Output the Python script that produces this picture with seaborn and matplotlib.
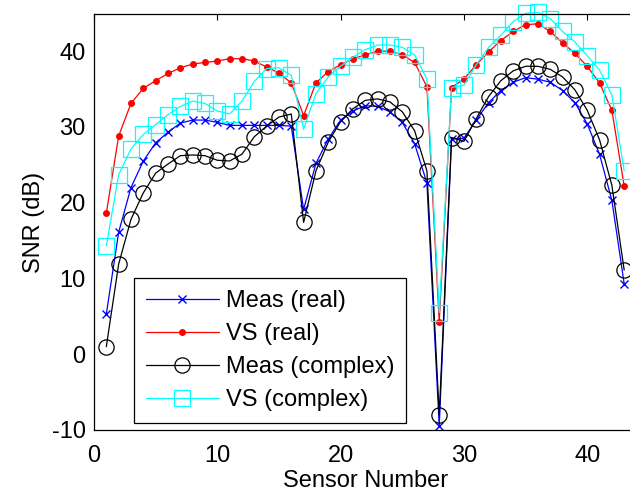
import numpy as np
import pandas as pd
import matplotlib
matplotlib.use("Agg")
import matplotlib.pyplot as plt
import seaborn as sns

sensors = list(range(1, 44))

meas_real = [5.3, 16.1, 22.0, 25.5, 27.9, 29.3, 30.5, 30.9, 30.9, 30.6,
             30.2, 30.2, 30.2, 30.2, 30.2, 30.1, 19.1, 25.2, 28.4, 30.9,
             32.1, 32.8, 32.7, 32.0, 30.6, 27.8, 22.6, -9.5, 28.4, 28.5,
             30.9, 33.2, 34.8, 35.9, 36.5, 36.3, 35.9, 34.8, 33.2, 30.4,
             26.4, 20.3, 9.3]

vs_real = [18.6, 28.8, 33.1, 35.1, 36.1, 37.05, 37.8, 38.3, 38.5, 38.7,
           39.0, 39.0, 38.7, 37.9, 37.1, 35.8, 31.5, 35.8, 37.3, 38.2,
           39.0, 39.5, 40.0, 40.0, 39.5, 38.5, 35.3, 4.3, 35.2, 36.3,
           38.2, 39.9, 41.4, 42.6, 43.5, 43.6, 42.6, 41.1, 39.7, 38.0,
           35.8, 32.2, 22.2]

meas_complex = [1.0, 11.9, 17.8, 21.3, 23.9, 25.1, 26.2, 26.3, 26.2, 25.6,
                25.5, 26.4, 28.7, 30.1, 31.3, 31.7, 17.4, 24.2, 28.0, 30.7,
                32.4, 33.5, 33.7, 33.3, 32.0, 29.5, 24.2, -8.0, 28.6, 28.1,
                31.1, 34.0, 36.1, 37.4, 38.0, 38.0, 37.6, 36.6, 34.9, 32.2,
                28.3, 22.3, 11.1]

vs_complex = [14.3, 23.7, 27.1, 29.0, 30.3, 31.6, 32.7, 33.4, 33.1, 32.1,
              31.7, 33.4, 36.0, 37.7, 37.8, 36.8, 29.7, 34.4, 36.6, 38.0,
              39.2, 40.2, 40.8, 40.8, 40.5, 39.5, 36.3, 5.5, 35.2, 35.5,
              38.2, 40.5, 42.1, 43.9, 45.0, 45.1, 44.3, 42.6, 41.2, 39.4,
              37.5, 34.2, 24.2]

labels = ["Meas (real)", "VS (real)", "Meas (complex)", "VS (complex)"]
xticks = [0, 10, 20, 30, 40]
yticks = [-10, 0, 10, 20, 30, 40]

sns.set_style("white")
plt.rcParams['font.family'] = ['Liberation Sans', 'DejaVu Sans']
plt.rcParams['axes.unicode_minus'] = False
plt.rcParams['text.color'] = 'black'
plt.rcParams['axes.labelcolor'] = 'black'
plt.rcParams['xtick.color'] = 'black'
plt.rcParams['ytick.color'] = 'black'

FS = 17

fig = plt.figure(figsize=(6.30, 4.97), dpi=100)
ax = fig.add_axes([94 / 630, 67 / 497, 44 * 12.33 / 630, 416 / 497])

styles = [
    dict(color=(0, 0, 1), marker="x", markersize=5.5, markeredgewidth=1.0,
         markeredgecolor=(0, 0, 1)),
    dict(color=(1, 0, 0), marker="o", markersize=5, markeredgewidth=0,
         markerfacecolor=(1, 0, 0), markeredgecolor=(1, 0, 0)),
    dict(color="black", marker="o", markersize=11, markerfacecolor="none",
         markeredgecolor="black", markeredgewidth=0.9),
    dict(color=(0, 1, 1), marker="s", markersize=11, markerfacecolor="none",
         markeredgecolor=(0, 1, 1), markeredgewidth=0.9),
]

for ys, lab, st in zip([meas_real, vs_real, meas_complex, vs_complex], labels, styles):
    df = pd.DataFrame({"sensor": sensors, "snr": ys})
    sns.lineplot(data=df, x="sensor", y="snr", ax=ax, label=lab, linewidth=0.9,
                 clip_on=False, sort=False, **st)

ax.set_xlim(0, 44)
ax.set_ylim(-10, 44.9)
ax.set_xticks(xticks)
ax.set_yticks(yticks)
ax.set_xlabel("Sensor Number", fontsize=FS, labelpad=2, color="black")
ax.set_ylabel("SNR (dB)", fontsize=FS, labelpad=5, color="black")
ax.tick_params(direction="in", length=4, width=0.8, labelsize=FS,
               top=True, right=True, colors="black", pad=6)
ax.tick_params(axis="x", pad=11)
for s in ax.spines.values():
    s.set_color("black")
    s.set_linewidth(0.9)

axw = 44 * 12.33
leg = ax.legend(loc="lower left", bbox_to_anchor=((134 - 94) / axw, 7 / 416),
                borderaxespad=0, fontsize=FS, handlelength=3.1, handletextpad=0.3,
                labelspacing=0.47, borderpad=0.5, frameon=True, fancybox=False,
                framealpha=1, edgecolor="black", labelcolor="black")
leg.get_frame().set_linewidth(0.9)

fig.savefig("out.png", dpi=100)
